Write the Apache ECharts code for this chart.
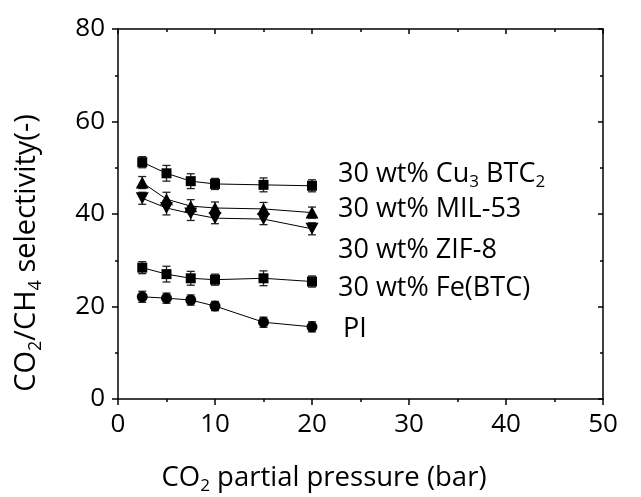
<!DOCTYPE html>
<html><head><meta charset="utf-8">
<script src="https://cdn.jsdelivr.net/npm/echarts@6/dist/echarts.min.js"></script>
<style>html,body{margin:0;padding:0;background:#fff}#c{width:641px;height:497px}</style>
</head><body><div id="c"></div><script>
const pressure = [2.5, 5, 7.5, 10, 15, 20];
const cu = [51.2, 48.8, 47.1, 46.5, 46.3, 46.1];
const cuErr = [1.2, 1.7, 1.6, 1.2, 1.5, 1.3];
const mil = [46.8, 43.2, 41.7, 41.3, 41.1, 40.3];
const milErr = [1.3, 1.5, 1.4, 1.3, 1.4, 1.2];
const zif = [43.4, 41.3, 40.1, 39.1, 38.9, 36.8];
const zifErr = [1.3, 1.5, 1.5, 1.2, 1.2, 1.3];
const fe = [28.4, 27.0, 26.1, 25.8, 26.1, 25.4];
const feErr = [1.3, 1.7, 1.5, 1.2, 1.6, 1.2];
const pi = [22.1, 21.8, 21.4, 20.1, 16.6, 15.6];
const piErr = [1.2, 1.1, 1.1, 1.0, 1.1, 1.1];
const xTicks = [0, 10, 20, 30, 40, 50];
const yTicks = [0, 20, 40, 60, 80];

const FONT = 'Open Sans';
const groups = [
  {name: 'Cu', y: cu, e: cuErr, symbol: 'rect', size: 10, rot: 0},
  {name: 'MIL', y: mil, e: milErr, symbol: 'triangle', size: [13, 12], rot: 0},
  {name: 'ZIF', y: zif, e: zifErr, symbol: 'triangle', size: [13, 12], rot: 180},
  {name: 'Fe', y: fe, e: feErr, symbol: 'rect', size: 10, rot: 0},
  {name: 'PI', y: pi, e: piErr, symbol: 'circle', size: 11, rot: 0}
];

const series = [];
groups.forEach(g => {
  series.push({
    type: 'custom', name: g.name + ' err', z: 1,
    data: pressure.map((x, i) => [x, g.y[i], g.e[i]]),
    renderItem: (params, api) => {
      const x = api.value(0), y = api.value(1), e = api.value(2);
      const lo = api.coord([x, y - e]), hi = api.coord([x, y + e]);
      const w = 4;
      const st = {stroke: '#222', lineWidth: 1.3};
      return {type: 'group', children: [
        {type: 'line', shape: {x1: lo[0], y1: lo[1], x2: hi[0], y2: hi[1]}, style: st},
        {type: 'line', shape: {x1: lo[0] - w, y1: lo[1], x2: lo[0] + w, y2: lo[1]}, style: st},
        {type: 'line', shape: {x1: hi[0] - w, y1: hi[1], x2: hi[0] + w, y2: hi[1]}, style: st}
      ]};
    }
  });
  series.push({
    type: 'line', name: g.name, z: 3,
    data: pressure.map((x, i) => [x, g.y[i]]),
    symbol: g.symbol, symbolSize: g.size, symbolRotate: g.rot,
    showAllSymbol: true,
    lineStyle: {color: '#000', width: 1},
    itemStyle: {color: '#000'},
    emphasis: {disabled: true}
  });
});

const axisCommon = {
  axisLine: {show: true, onZero: false, lineStyle: {color: '#000', width: 1.5}},
  splitLine: {show: false}
};
const lblStyle = {fontFamily: FONT, fontSize: 26, color: '#000'};

const rich = {
  n: {fontFamily: FONT, fontSize: 27, color: '#000', lineHeight: 34},
  s: {fontFamily: FONT, fontSize: 17, color: '#000', lineHeight: 17, verticalAlign: 'bottom'}
};
const richX = {
  n: {fontFamily: FONT, fontSize: 27.5, color: '#000', lineHeight: 34},
  s: {fontFamily: FONT, fontSize: 17, color: '#000', lineHeight: 17, verticalAlign: 'bottom'}
};
const richY = {
  n: {fontFamily: FONT, fontSize: 29, color: '#000', lineHeight: 36},
  s: {fontFamily: FONT, fontSize: 18, color: '#000', lineHeight: 18, verticalAlign: 'bottom'}
};
function label(txt, x, y) {
  return {type: 'text', x: x, y: y, style: {text: txt, rich: rich, align: 'left', verticalAlign: 'middle'}, z: 10};
}

const option = {
  animation: false,
  backgroundColor: '#fff',
  grid: {left: 118, right: 38, top: 29, bottom: 98, containLabel: false},
  xAxis: [
    Object.assign({}, axisCommon, {
      type: 'value', min: xTicks[0], max: xTicks[xTicks.length - 1], interval: 10, position: 'bottom',
      axisTick: {show: true, inside: false, length: 6, lineStyle: {width: 1.5, color: '#000'}},
      minorTick: {show: true, splitNumber: 2, length: 3, lineStyle: {width: 1.5, color: '#000'}},
      axisLabel: Object.assign({margin: 13}, lblStyle)
    }),
    Object.assign({}, axisCommon, {
      type: 'value', min: xTicks[0], max: xTicks[xTicks.length - 1], interval: 10, position: 'top',
      axisTick: {show: true, inside: true, length: 5, lineStyle: {width: 1.5, color: '#000'}},
      minorTick: {show: true, splitNumber: 2, length: 3, lineStyle: {width: 1.5, color: '#000'}},
      axisLabel: {show: false}
    })
  ],
  yAxis: [
    Object.assign({}, axisCommon, {
      type: 'value', min: yTicks[0], max: yTicks[yTicks.length - 1], interval: 20, position: 'left',
      axisTick: {show: true, inside: false, length: 6, lineStyle: {width: 1.5, color: '#000'}},
      minorTick: {show: true, splitNumber: 2, length: 3, lineStyle: {width: 1.5, color: '#000'}},
      axisLabel: Object.assign({margin: 13}, lblStyle)
    }),
    Object.assign({}, axisCommon, {
      type: 'value', min: yTicks[0], max: yTicks[yTicks.length - 1], interval: 20, position: 'right',
      axisTick: {show: true, inside: true, length: 5, lineStyle: {width: 1.5, color: '#000'}},
      minorTick: {show: true, splitNumber: 2, length: 3, lineStyle: {width: 1.5, color: '#000'}},
      axisLabel: {show: false}
    })
  ],
  series: series,
  graphic: [
    label('{n|30 wt% Cu}{s|3}{n| BTC}{s|2}', 338, 174),
    label('{n|30 wt% MIL-53}', 338, 209),
    label('{n|30 wt% ZIF-8}', 338, 250),
    label('{n|30 wt% Fe(BTC)}', 338, 288),
    label('{n|PI}', 343, 329),
    {type: 'text', x: 324, y: 478, z: 10,
     style: {text: '{n|CO}{s|2}{n| partial pressure (bar)}', rich: richX, align: 'center', verticalAlign: 'middle'}},
    {type: 'text', x: 27, y: 253, rotation: Math.PI / 2, z: 10,
     style: {text: '{n|CO}{s|2}{n|/CH}{s|4}{n| selectivity(-)}', rich: richY, align: 'center', verticalAlign: 'middle'}}
  ]
};
const chart = echarts.init(document.getElementById('c'), null, {renderer: 'canvas'});
chart.setOption(option);
</script></body></html>
